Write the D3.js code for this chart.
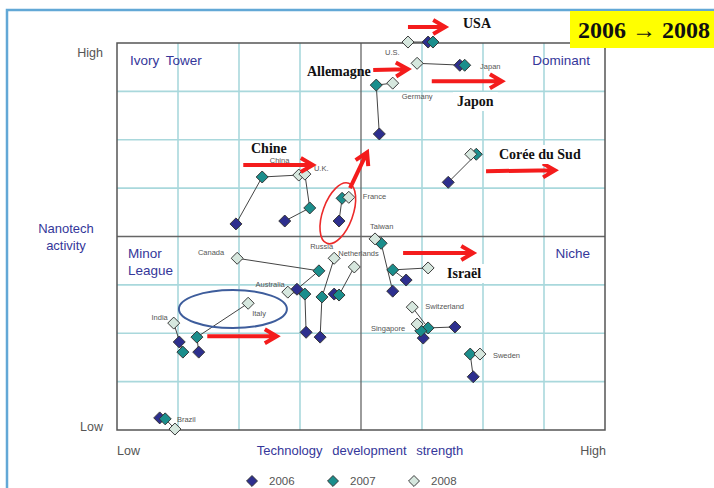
<!DOCTYPE html>
<html>
<head>
<meta charset="utf-8">
<script src="https://cdn.jsdelivr.net/npm/d3@7"></script>
<style>
  body { margin: 0; background: #fff; }
  svg { display: block; }
</style>
</head>
<body>
<div id="container"></div>
<script>
/* DATA (grid units, 0..8 on both axes) */
const years = ["2006", "2007", "2008"];
const countries = ["U.S.", "Japan", "Germany", "Korea", "China", "U.K.", "France", "Taiwan", "Israel",
  "Switzerland", "Singapore", "Sweden", "Canada", "Australia", "Russia", "Netherlands", "India", "Italy", "Brazil"];
const x2006 = [5.10, 5.62, 4.30, 5.43, 1.95, 2.75, 3.64, 4.52, 4.74, 5.54, 5.02, 5.84, 2.95, 3.10, 3.33, 3.56, 1.02, 1.34, 0.70];
const y2006 = [8.02, 7.54, 6.12, 5.12, 4.26, 4.32, 4.32, 2.87, 3.10, 2.13, 1.90, 1.10, 2.91, 2.02, 1.92, 2.81, 1.82, 1.61, 0.25];
const x2007 = [5.18, 5.70, 4.25, 5.89, 2.38, 3.16, 3.69, 4.33, 4.52, 5.10, 4.98, 5.79, 3.31, 3.08, 3.36, 3.64, 1.08, 1.31, 0.79];
const y2007 = [8.02, 7.54, 7.13, 5.70, 5.23, 4.59, 4.79, 3.86, 3.31, 2.11, 2.05, 1.57, 3.29, 2.81, 2.75, 2.79, 1.61, 1.92, 0.23];
const x2008 = [4.77, 4.92, 4.52, 5.80, 2.98, 3.08, 3.80, 4.23, 5.10, 4.84, 4.92, 5.95, 1.97, 2.80, 3.56, 3.89, 0.93, 2.15, 0.95];
const y2008 = [8.02, 7.58, 7.17, 5.70, 5.27, 5.29, 4.81, 3.95, 3.35, 2.54, 2.19, 1.57, 3.55, 2.85, 3.55, 3.37, 2.21, 2.62, 0.02];
const quadrants = ["Ivory Tower", "Dominant", "Minor League", "Niche"];
const notes = ["USA", "Allemagne", "Japon", "Corée du Sud", "Chine", "Israël"];

/* CONSTANTS */
const W = 714, H = 488;
const plot = {left: 117, right: 605, top: 43, bottom: 430};
const colors = {"2006": "#2d2f8e", "2007": "#1b8e8c", "2008": "#d6e7de"};
const blue = "#35379a";

const svg = d3.select("#container").append("svg")
  .attr("width", W).attr("height", H)
  .style("font-family", "Arial, 'Liberation Sans', sans-serif");

const x = d3.scaleLinear().domain([0, 8]).range([plot.left, plot.right]);
const y = d3.scaleLinear().domain([0, 8]).range([plot.bottom, plot.top]);

/* OUTER FRAME */
svg.append("path")
  .attr("d", `M7,${H} L7,10 L${W},10`)
  .attr("fill", "none").attr("stroke", "#62a8d6").attr("stroke-width", 2.5);

/* GRID */
const ticks = d3.range(1, 8);
svg.append("g").selectAll("line.vx").data(ticks.filter(t => t !== 4)).join("line")
  .attr("x1", d => x(d)).attr("x2", d => x(d)).attr("y1", y(0)).attr("y2", y(8))
  .attr("stroke", "#a9d8dc").attr("stroke-width", 1.6);
svg.append("g").selectAll("line.hy").data(ticks.filter(t => t !== 4)).join("line")
  .attr("y1", d => y(d)).attr("y2", d => y(d)).attr("x1", x(0)).attr("x2", x(8))
  .attr("stroke", "#a9d8dc").attr("stroke-width", 1.6);
svg.append("line").attr("x1", x(4)).attr("x2", x(4)).attr("y1", y(0)).attr("y2", y(8))
  .attr("stroke", "#666").attr("stroke-width", 1.3);
svg.append("line").attr("y1", y(4)).attr("y2", y(4)).attr("x1", x(0)).attr("x2", x(8))
  .attr("stroke", "#666").attr("stroke-width", 1.3);
svg.append("rect")
  .attr("x", x(0)).attr("y", y(8)).attr("width", x(8) - x(0)).attr("height", y(0) - y(8))
  .attr("fill", "none").attr("stroke", "#555").attr("stroke-width", 1.5);

/* QUADRANT LABELS */
const qpos = [[130, 65, "start"], [590, 65, "end"], [128, 258, "start"], [590, 258, "end"]];
quadrants.forEach((q, i) => {
  const t = svg.append("text").attr("x", qpos[i][0]).attr("y", qpos[i][1])
    .attr("text-anchor", qpos[i][2]).attr("fill", blue)
    .style("font-size", "13.5px").style("word-spacing", "3px");
  if (q === "Minor League") {
    t.append("tspan").attr("x", qpos[i][0]).text("Minor");
    t.append("tspan").attr("x", qpos[i][0]).attr("dy", 17).text("League");
  } else t.text(q);
});

/* AXIS TEXTS */
svg.append("text").attr("x", 103).attr("y", 57).attr("text-anchor", "end")
  .attr("fill", "#555").style("font-size", "12.5px").text("High");
svg.append("text").attr("x", 103).attr("y", 431).attr("text-anchor", "end")
  .attr("fill", "#555").style("font-size", "12.5px").text("Low");
svg.append("text").attr("x", 117).attr("y", 455)
  .attr("fill", "#555").style("font-size", "12.5px").text("Low");
svg.append("text").attr("x", 606).attr("y", 455).attr("text-anchor", "end")
  .attr("fill", "#555").style("font-size", "12.5px").text("High");
const yl = svg.append("text").attr("text-anchor", "middle").attr("fill", blue).style("font-size", "13px");
yl.append("tspan").attr("x", 66).attr("y", 233).text("Nanotech");
yl.append("tspan").attr("x", 66).attr("y", 250).text("activity");
svg.append("text").attr("x", 360).attr("y", 455).attr("text-anchor", "middle")
  .attr("fill", blue).style("font-size", "13px").style("word-spacing", "6px")
  .text("Technology development strength");

/* COUNTRY TRAJECTORIES */
const rows = countries.map((c, i) => ({
  name: c,
  pts: [
    {year: "2006", x: x2006[i], y: y2006[i]},
    {year: "2007", x: x2007[i], y: y2007[i]},
    {year: "2008", x: x2008[i], y: y2008[i]}
  ]
}));

const line = d3.line().x(d => x(d.x)).y(d => y(d.y));
svg.append("g").selectAll("path").data(rows).join("path")
  .attr("d", d => line(d.pts))
  .attr("fill", "none").attr("stroke", "#444").attr("stroke-width", 1);

const diamond = d3.symbol().type(d3.symbolSquare).size(72);
const mk = svg.append("g");
rows.forEach(r => {
  mk.selectAll(null).data(r.pts).join("path")
    .attr("d", diamond)
    .attr("transform", d => `translate(${x(d.x)},${y(d.y)}) rotate(45)`)
    .attr("fill", d => colors[d.year])
    .attr("stroke", "#333").attr("stroke-width", 0.9);
});

/* COUNTRY LABELS (offsets from the 2008 point) */
const labelOff = {
  "U.S.": [-23, 13, "start"], "Japan": [63, 6, "start"], "Germany": [9, 16, "start"],
  "U.K.": [9, -3, "start"], "China": [-29, -12, "start"], "France": [14, 2, "start"],
  "Taiwan": [-5, -10, "start"], "Russia": [-24, -9, "start"], "Netherlands": [-16, -11, "start"],
  "Canada": [-13, -3, "end"], "Australia": [-3, -5, "end"], "Italy": [4, 13, "start"],
  "India": [-6, -3, "end"], "Brazil": [2, -7, "start"], "Switzerland": [13, 2, "start"],
  "Singapore": [-12, 7, "end"], "Sweden": [13, 4, "start"]
};
svg.append("g").selectAll("text").data(rows.filter(r => labelOff[r.name])).join("text")
  .attr("x", d => x(d.pts[2].x) + labelOff[d.name][0])
  .attr("y", d => y(d.pts[2].y) + labelOff[d.name][1])
  .attr("text-anchor", d => labelOff[d.name][2])
  .attr("fill", "#555").style("font-size", "7.5px")
  .text(d => d.name);

/* ELLIPSES */
svg.append("ellipse")
  .attr("transform", `translate(${x(3.62)},${y(4.48)}) rotate(20)`)
  .attr("rx", 15).attr("ry", 32)
  .attr("fill", "none").attr("stroke", "#ec2a2a").attr("stroke-width", 1.6);
svg.append("ellipse")
  .attr("cx", x(1.90)).attr("cy", y(2.50)).attr("rx", 54).attr("ry", 19)
  .attr("fill", "none").attr("stroke", "#3e5d9c").attr("stroke-width", 2);

/* RED ARROWS */
const arrows = [
  [4.77, 8.33, 5.38, 8.33], [4.20, 7.44, 4.77, 7.46], [5.16, 7.21, 6.31, 7.21],
  [6.05, 5.35, 7.18, 5.37], [2.07, 5.48, 3.21, 5.48], [3.82, 5.00, 4.10, 5.74],
  [4.69, 3.66, 5.84, 3.66], [1.48, 1.94, 2.62, 1.94]
];
const ag = svg.append("g");
arrows.forEach(a => {
  const x1 = x(a[0]), y1 = y(a[1]), x2 = x(a[2]), y2 = y(a[3]);
  const ang = Math.atan2(y2 - y1, x2 - x1);
  const hl = 12, hw = 7;
  const bx = x2 - hl * Math.cos(ang), by = y2 - hl * Math.sin(ang);
  const px = -Math.sin(ang) * hw, py = Math.cos(ang) * hw;
  ag.append("path")
    .attr("d", `M${x1},${y1} L${x2 - 2 * Math.cos(ang)},${y2 - 2 * Math.sin(ang)} M${bx + px},${by + py} L${x2},${y2} L${bx - px},${by - py}`)
    .attr("fill", "none").attr("stroke", "#f41c1c").attr("stroke-width", 4)
    .attr("stroke-linejoin", "miter").attr("stroke-linecap", "butt");
});

/* FRENCH NOTES */
const notePos = [[463, 28], [307, 76], [457, 106], [499, 159], [251, 153], [447, 278]];
notes.forEach((n, i) => {
  const t = svg.append("text").attr("x", notePos[i][0]).attr("y", notePos[i][1])
    .attr("fill", "#111").style("font-family", "'Liberation Serif', 'Times New Roman', serif")
    .style("font-weight", "bold").style("font-size", "14px").text(n);
  if (n === "Israël" || n === "Japon" || n === "Corée du Sud") {
    const b = t.node().getBBox();
    svg.insert("rect", () => t.node())
      .attr("x", b.x - 4).attr("y", b.y - 2).attr("width", b.width + 8).attr("height", b.height + 4)
      .attr("fill", "#fff");
  }
});

/* YELLOW TAG */
svg.append("rect").attr("x", 570).attr("y", 11).attr("width", 144).attr("height", 37).attr("fill", "#ffff00");
svg.append("text").attr("x", 578).attr("y", 38)
  .style("font-family", "'Liberation Serif', 'Times New Roman', serif")
  .style("font-weight", "bold").style("font-size", "24px").attr("fill", "#111")
  .text("2006 \u2192 2008");

/* LEGEND */
const lg = svg.append("g").selectAll("g").data(years).join("g")
  .attr("transform", (d, i) => `translate(${252 + i * 81},481)`);
lg.append("path").attr("d", d3.symbol().type(d3.symbolSquare).size(60))
  .attr("transform", "rotate(45)")
  .attr("fill", d => colors[d]).attr("stroke", "#333").attr("stroke-width", 0.9);
lg.append("text").attr("x", 17).attr("y", 4).attr("fill", "#555").style("font-size", "11.5px").text(d => d);
</script>
</body>
</html>
